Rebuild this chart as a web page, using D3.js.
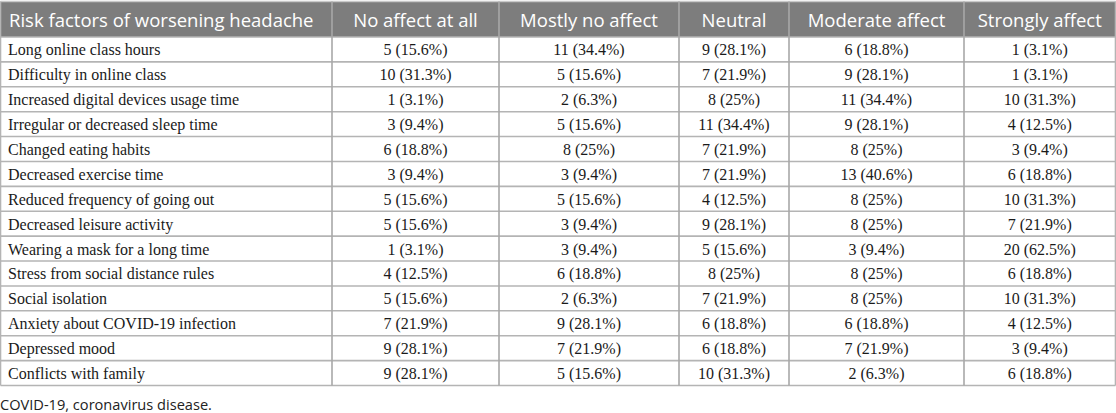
<!DOCTYPE html>
<html>
<head>
<meta charset="utf-8">
<script src="https://cdn.jsdelivr.net/npm/d3@7"></script>
<style>
  body { margin: 0; background: #fff; }
  svg { display: block; }
</style>
</head>
<body>
<svg id="table_svg"></svg>
<script>
// header labels
var headers = ["Risk factors of worsening headache", "No affect at all", "Mostly no affect",
               "Neutral", "Moderate affect", "Strongly affect"];

var factors = [
  "Long online class hours",
  "Difficulty in online class",
  "Increased digital devices usage time",
  "Irregular or decreased sleep time",
  "Changed eating habits",
  "Decreased exercise time",
  "Reduced frequency of going out",
  "Decreased leisure activity",
  "Wearing a mask for a long time",
  "Stress from social distance rules",
  "Social isolation",
  "Anxiety about COVID-19 infection",
  "Depressed mood",
  "Conflicts with family"
];

// counts and percentages per response column
var noAffectN     = [5, 10, 1, 3, 6, 3, 5, 5, 1, 4, 5, 7, 9, 9];
var noAffectPct   = [15.6, 31.3, 3.1, 9.4, 18.8, 9.4, 15.6, 15.6, 3.1, 12.5, 15.6, 21.9, 28.1, 28.1];
var mostlyNoN     = [11, 5, 2, 5, 8, 3, 5, 3, 3, 6, 2, 9, 7, 5];
var mostlyNoPct   = [34.4, 15.6, 6.3, 15.6, 25, 9.4, 15.6, 9.4, 9.4, 18.8, 6.3, 28.1, 21.9, 15.6];
var neutralN      = [9, 7, 8, 11, 7, 7, 4, 9, 5, 8, 7, 6, 6, 10];
var neutralPct    = [28.1, 21.9, 25, 34.4, 21.9, 21.9, 12.5, 28.1, 15.6, 25, 21.9, 18.8, 18.8, 31.3];
var moderateN     = [6, 9, 11, 9, 8, 13, 8, 8, 3, 8, 8, 6, 7, 2];
var moderatePct   = [18.8, 28.1, 34.4, 28.1, 25, 40.6, 25, 25, 9.4, 25, 25, 18.8, 21.9, 6.3];
var stronglyN     = [1, 1, 10, 4, 3, 6, 10, 7, 20, 6, 10, 4, 3, 6];
var stronglyPct   = [3.1, 3.1, 31.3, 12.5, 9.4, 18.8, 31.3, 21.9, 62.5, 18.8, 31.3, 12.5, 9.4, 18.8];

var footnote = "COVID-19, coronavirus disease.";

var columns = [
  [noAffectN, noAffectPct],
  [mostlyNoN, mostlyNoPct],
  [neutralN, neutralPct],
  [moderateN, moderatePct],
  [stronglyN, stronglyPct]
];

// layout
var svgWidth = 1116, svgHeight = 413;
var colEdges = [0.5, 332, 499, 679, 789, 964, 1115.5];
var headTop = 1.5, headBottom = 37, tableBottom = 385.5;
var lineColor = "#b4b4b4";

var svg = d3.select("#table_svg")
  .attr("width", svgWidth)
  .attr("height", svgHeight);

var y = d3.scaleBand()
  .domain(d3.range(factors.length))
  .range([headBottom, tableBottom])
  .padding(0);

// cell text for each row/column
var rows = factors.map(function(f, i) {
  return [f].concat(columns.map(c => `${c[0][i]} (${c[1][i]}%)`));
});

// header band
svg.append("rect")
  .attr("x", colEdges[0])
  .attr("y", headTop)
  .attr("width", colEdges[6] - colEdges[0])
  .attr("height", headBottom - headTop)
  .attr("fill", "#7d7d7d");

svg.selectAll("text.head")
  .data(headers)
  .enter()
  .append("text")
  .attr("class", "head")
  .attr("x", (d, i) => i === 0 ? 9 : (colEdges[i] + colEdges[i + 1]) / 2)
  .attr("y", headBottom - 10)
  .attr("text-anchor", (d, i) => i === 0 ? "start" : "middle")
  .attr("fill", "#fff")
  .style("font-family", "'Open Sans', 'Noto Sans', sans-serif")
  .style("font-size", "18.5px")
  .text(d => d);

// body rows
var row = svg.selectAll("g.row")
  .data(rows)
  .enter()
  .append("g")
  .attr("class", "row")
  .attr("transform", (d, i) => `translate(0, ${y(i)})`);

row.selectAll("text")
  .data(d => d)
  .enter()
  .append("text")
  .attr("x", (d, i) => i === 0 ? 8 : (colEdges[i] + colEdges[i + 1]) / 2)
  .attr("y", y.bandwidth() / 2 + 6)
  .attr("text-anchor", (d, i) => i === 0 ? "start" : "middle")
  .attr("fill", "#1a1a1a")
  .style("font-family", "'Liberation Serif', 'Times New Roman', serif")
  .style("font-size", "16px")
  .text(d => d);

// horizontal rules
var hLines = [headTop].concat(d3.range(factors.length).map(i => y(i))).concat([tableBottom]);
svg.selectAll("line.h")
  .data(hLines)
  .enter()
  .append("line")
  .attr("class", "h")
  .attr("x1", colEdges[0])
  .attr("x2", colEdges[6])
  .attr("y1", d => d)
  .attr("y2", d => d)
  .attr("stroke", (d, i) => i === 0 ? "#c8c8c8" : lineColor)
  .attr("stroke-width", 1.6);

// vertical rules
svg.selectAll("line.v")
  .data(colEdges)
  .enter()
  .append("line")
  .attr("class", "v")
  .attr("x1", d => d)
  .attr("x2", d => d)
  .attr("y1", headTop)
  .attr("y2", tableBottom)
  .attr("stroke", (d, i) => (i === 0 || i === 6) ? lineColor : "#a8a8a8")
  .attr("stroke-width", 1.6);

// footnote
svg.append("text")
  .attr("x", 0)
  .attr("y", 410)
  .attr("fill", "#222")
  .style("font-family", "'Open Sans', 'Noto Sans', sans-serif")
  .style("font-size", "14.6px")
  .text(footnote);
</script>
</body>
</html>
